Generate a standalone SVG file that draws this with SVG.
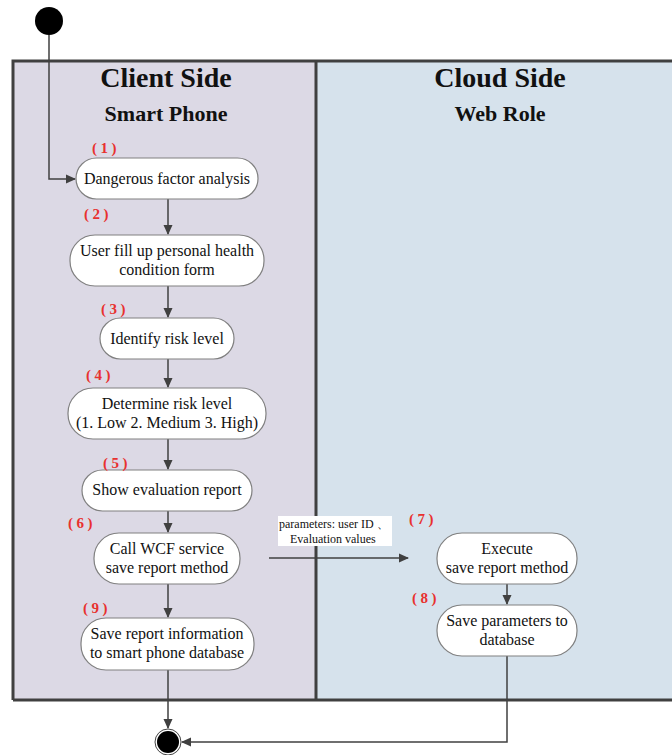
<svg xmlns="http://www.w3.org/2000/svg" width="672" height="755" viewBox="0 0 672 755">
<defs>
<marker id="ah" markerWidth="10" markerHeight="10" refX="9" refY="5" orient="auto" markerUnits="userSpaceOnUse">
<path d="M0,0.5 L10,5 L0,9.5 Z" fill="#404040"/>
</marker>
<style>
.node rect{fill:#fff;stroke:#808080;stroke-width:1.2}
.node text{font-family:'Liberation Serif','Times New Roman',serif;font-size:16px;fill:#111;text-anchor:middle}
.num{font-family:'Liberation Serif','Times New Roman',serif;font-size:15px;font-weight:bold;fill:#e8312f;letter-spacing:3.5px}
.title{font-family:'Liberation Serif','Times New Roman',serif;font-weight:bold;fill:#111;text-anchor:middle}
.conn path{fill:none;stroke:#404040;stroke-width:1.5}
.lbl{font-family:'Liberation Serif','Times New Roman',serif;font-size:12px;fill:#111}
</style>
</defs>
<rect width="672" height="755" fill="#fff"/>
<g id="lanes">
<rect x="13" y="61" width="303" height="639" fill="#dcd9e5"/>
<rect x="316" y="61" width="360" height="639" fill="#d6e2ec"/>
<path d="M13,700 L13,61 L675,61 M13,700 L675,700 M316,61 L316,700" fill="none" stroke="#404040" stroke-width="3"/>
<text class="title" x="166" y="87" font-size="28">Client Side</text>
<text class="title" x="166" y="121" font-size="22">Smart Phone</text>
<text class="title" x="500" y="87" font-size="28">Cloud Side</text>
<text class="title" x="500" y="121" font-size="22">Web Role</text>
</g>
<g id="start"><circle cx="49" cy="21" r="14" fill="#000"/></g>
<g id="end"><circle cx="168" cy="742" r="13" fill="#fff" stroke="#444" stroke-width="1"/><circle cx="168" cy="742" r="11" fill="#000"/></g>
<g class="conn" id="connectors">
<path d="M49,35 L49,179 L75,179" marker-end="url(#ah)"/>
<path d="M168,199 L168,234" marker-end="url(#ah)"/>
<path d="M168,286 L168,317" marker-end="url(#ah)"/>
<path d="M168,359 L168,387" marker-end="url(#ah)"/>
<path d="M168,439 L168,469" marker-end="url(#ah)"/>
<path d="M168,511 L168,532" marker-end="url(#ah)"/>
<path d="M168,584 L168,617" marker-end="url(#ah)"/>
<path d="M168,670 L168,728" marker-end="url(#ah)"/>
<path d="M269,558 L408,558" marker-end="url(#ah)"/>
<path d="M507,584 L507,604" marker-end="url(#ah)"/>
<path d="M507,656 L507,742 L182,742" marker-end="url(#ah)"/>
<g id="edge-label">
<rect x="278" y="516" width="114" height="30" fill="#fff"/>
<text class="lbl" x="279" y="528">parameters: user ID 、</text>
<text class="lbl" x="290" y="543">Evaluation values</text>
</g>
</g>
<g id="n1" class="node"><rect x="76" y="158" width="182" height="41" rx="20.5"/><text x="167" y="184">Dangerous factor analysis</text></g>
<text class="num" x="92" y="153">(1)</text>
<g id="n2" class="node"><rect x="70" y="235" width="194" height="51" rx="25"/><text x="167" y="256">User fill up personal health</text><text x="167" y="275">condition form</text></g>
<text class="num" x="84" y="219">(2)</text>
<g id="n3" class="node"><rect x="100" y="318" width="134" height="41" rx="20.5"/><text x="167" y="344">Identify risk level</text></g>
<text class="num" x="101" y="314">(3)</text>
<g id="n4" class="node"><rect x="68" y="388" width="198" height="51" rx="25"/><text x="167" y="409">Determine risk level</text><text x="167" y="428">(1. Low  2. Medium  3. High)</text></g>
<text class="num" x="86" y="380">(4)</text>
<g id="n5" class="node"><rect x="82" y="470" width="170" height="41" rx="20.5"/><text x="167" y="495">Show evaluation report</text></g>
<text class="num" x="103" y="468">(5)</text>
<g id="n6" class="node"><rect x="94" y="533" width="146" height="51" rx="25"/><text x="167" y="554">Call WCF service</text><text x="167" y="573">save report  method</text></g>
<text class="num" x="68" y="528">(6)</text>
<g id="n9" class="node"><rect x="81" y="618" width="173" height="52" rx="25"/><text x="167" y="639">Save report information</text><text x="167" y="658">to smart phone database</text></g>
<text class="num" x="83" y="613">(9)</text>
<g id="n7" class="node"><rect x="437" y="533" width="140" height="51" rx="25"/><text x="507" y="554">Execute</text><text x="507" y="573">save report method</text></g>
<text class="num" x="409" y="524">(7)</text>
<g id="n8" class="node"><rect x="437" y="605" width="140" height="51" rx="25"/><text x="507" y="626">Save parameters to</text><text x="507" y="645">database</text></g>
<text class="num" x="412" y="603">(8)</text>
</svg>
